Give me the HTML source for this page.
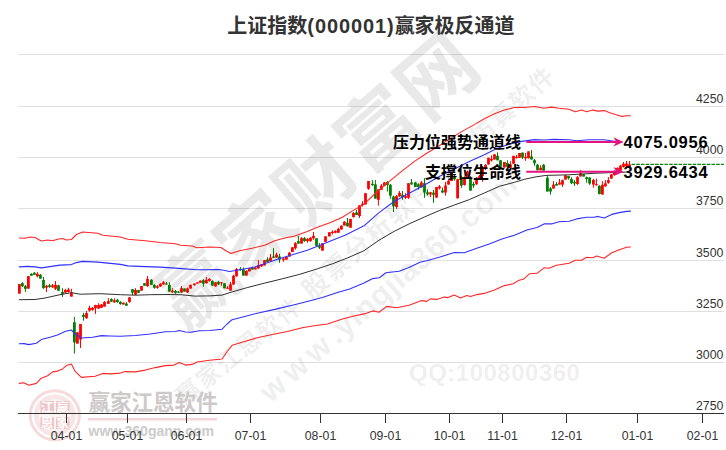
<!DOCTYPE html>
<html lang="zh-CN">
<head>
<meta charset="utf-8">
<title>上证指数(000001)赢家极反通道</title>
<style>
html,body{margin:0;padding:0;background:#fff;}
body{width:726px;height:450px;overflow:hidden;}
svg{display:block;}
.cn{font-family:"Liberation Sans","Noto Sans CJK SC",sans-serif;}
.ax{font-family:"Liberation Sans",sans-serif;font-size:12.3px;fill:#333;}
.wm{font-family:"Liberation Sans","Noto Sans CJK SC",sans-serif;fill:#000000;fill-opacity:0.088;}
</style>
</head>
<body>
<svg width="726" height="450" viewBox="0 0 726 450">
<rect x="0" y="0" width="726" height="450" fill="#ffffff"/>

<g stroke="#e0e0e0" stroke-width="1" shape-rendering="crispEdges">
<line x1="18" y1="54.5" x2="724" y2="54.5"/>
<line x1="18" y1="106.5" x2="724" y2="106.5"/>
<line x1="18" y1="157.5" x2="724" y2="157.5"/>
<line x1="18" y1="208.5" x2="724" y2="208.5"/>
<line x1="18" y1="260.5" x2="724" y2="260.5"/>
<line x1="18" y1="311.5" x2="724" y2="311.5"/>
<line x1="18" y1="362.5" x2="724" y2="362.5"/>
</g>
<g class="wm">
<text x="317.8" y="181.3" font-size="78" font-weight="700" letter-spacing="2" text-anchor="middle" dominant-baseline="central" transform="rotate(-41 317.8 181.3)">赢家财富网</text>
<text x="369" y="238.4" font-size="26" font-weight="bold" letter-spacing="2" text-anchor="middle" dominant-baseline="central" transform="rotate(-41.5 369 238.4)">股票分析软件</text>
<text x="512.6" y="105.8" font-size="24.5" font-weight="bold" letter-spacing="1.5" text-anchor="middle" dominant-baseline="central" transform="rotate(-41.2 512.6 105.8)">仿真软件</text>
<text x="263.6" y="395.5" font-size="31" font-weight="bold" dominant-baseline="central" transform="rotate(-41.2 263.6 395.5)"><tspan letter-spacing="5.5">www</tspan><tspan letter-spacing="0.55">.yingjia360</tspan><tspan letter-spacing="1.3">.com</tspan></text>
<text x="239.3" y="351.1" font-size="24" font-weight="bold" letter-spacing="1.7" text-anchor="middle" dominant-baseline="central" transform="rotate(-39 239.3 351.1)">赢家江恩软件</text>
<text x="409" y="380.9" font-size="24" font-weight="bold" letter-spacing="0.5" fill-opacity="0.075">QQ:100800360</text>
</g>
<g id="logo">
<circle cx="54.8" cy="415.3" r="21" fill="#fcf3f3"/>
<circle cx="54.8" cy="415.3" r="24.6" fill="none" stroke="#f5dbdb" stroke-width="3"/>
<circle cx="54.8" cy="415.3" r="18.6" fill="none" stroke="#f8e5e5" stroke-width="4.6"/>
<g fill="#eec5c6"><rect x="40.4" y="401" width="13.5" height="12.4"/><rect x="56" y="401" width="13.5" height="12.4"/><rect x="40.4" y="417.2" width="13.5" height="11.8"/><rect x="56" y="417.2" width="13.5" height="11.8"/></g>
<g class="cn" font-size="12.5" font-weight="bold" fill="#ffffff" text-anchor="middle">
<text x="47.1" y="411.8">江</text><text x="62.7" y="411.8">赢</text>
<text x="47.1" y="427.6">恩</text><text x="62.7" y="427.6">家</text>
</g>
<text class="cn" x="88.6" y="410.3" font-size="21.6" font-weight="700" fill="#cec8c8" letter-spacing="-0.1">赢家江恩软件</text>
<line x1="88" y1="419.3" x2="217" y2="419.3" stroke="#f2d6d7" stroke-width="2.4"/>
<text class="cn" x="88.5" y="436.4" font-size="14" font-weight="bold" fill="#cbcbcb">www.360gann.com</text>
</g>
<path d="M19.4 284.1V293.6M28.4 276.1V288.6M37.4 271.9V277.3M46.5 284.8V292.0M52.5 284.0V287.8M55.5 281.0V290.0M65.4 288.8V293.2M68.4 287.8V292.4M71.4 288.8V296.6M77.4 332.3V343.6M80.5 324.0V347.9M86.5 311.0V318.8M89.5 305.7V311.6M92.5 307.0V310.6M95.5 304.8V313.9M98.6 303.2V308.8M101.5 304.0V308.0M104.5 301.1V306.6M108.4 298.2V303.8M114.4 298.2V302.8M123.4 302.3V304.5M129.5 297.3V302.8M135.5 288.2V295.0M141.5 286.0V290.7M147.5 276.0V287.0M157.4 285.0V288.8M160.4 283.2V286.9M163.4 281.0V284.8M172.4 288.2V292.8M181.5 286.0V292.6M187.5 287.5V292.8M190.5 284.8V288.6M194.4 283.3V285.8M197.4 282.3V283.6M200.4 280.6V282.7M206.4 277.0V283.6M209.4 278.1V281.8M215.5 282.3V286.5M221.5 282.0V285.8M227.5 286.1V288.6M230.5 282.0V290.6M233.5 274.8V284.6M236.5 268.0V276.4M246.4 270.2V275.6M249.4 268.3V271.4M255.4 266.8V269.5M258.4 260.1V268.5M261.5 263.9V266.8M264.5 260.1V265.5M270.5 253.9V261.0M276.5 252.7V257.8M283.4 257.8V261.9M286.4 256.9V259.6M289.4 251.9V256.9M292.4 247.3V251.9M295.4 242.1V249.6M301.5 237.1V243.6M307.5 238.1V242.7M310.5 237.1V241.8M313.5 232.0V239.8M322.5 243.3V250.6M325.5 236.4V241.8M329.4 232.3V236.4M332.4 230.2V234.6M335.4 230.2V233.3M338.4 227.7V232.7M341.4 225.2V229.5M344.4 221.0V225.5M350.5 218.9V227.7M353.5 212.0V217.6M359.5 205.3V217.9M362.5 201.1V206.6M365.5 193.2V204.5M368.5 181.0V189.8M378.4 189.4V205.7M381.4 184.0V189.8M384.4 181.9V186.3M396.5 195.0V208.9M399.5 191.0V197.0M405.5 193.2V199.0M408.5 183.2V198.8M421.4 181.0V187.6M430.5 191.9V197.0M436.5 187.0V197.6M439.5 185.0V189.5M445.5 182.0V195.6M448.5 179.3V184.6M451.5 172.0V181.2M457.6 178.7V198.8M464.5 176.5V185.6M467.5 170.5V178.5M476.5 177.0V184.8M479.5 175.0V179.6M482.5 166.0V181.8M485.5 164.0V170.0M488.5 157.8V164.5M491.5 155.5V161.5M494.5 154.3V159.5M504.4 162.0V167.8M510.4 161.2V168.5M513.5 155.8V163.7M516.5 154.9V158.7M519.5 153.0V157.8M525.5 153.0V160.8M528.5 151.4V158.3M540.6 165.2V170.4M553.5 181.1V188.6M559.5 179.0V184.6M562.5 179.6V186.9M565.5 175.2V179.6M577.5 176.1V184.9M580.5 170.2V176.5M593.4 178.9V187.7M596.4 178.5V185.6M602.4 181.2V194.5M605.4 180.1V186.4M608.4 177.1V183.8M611.4 173.8V178.6M614.4 170.2V175.0M617.4 167.2V172.0M620.5 164.8V170.7M623.5 161.9V167.5M626.5 161.0V166.9M629.5 161.0V166.9" stroke="#ff0000" stroke-width="1" fill="none"/>
<path d="M22.4 282.0V287.0M25.4 284.8V292.0M31.4 273.2V275.7M34.4 272.0V274.8M40.4 274.0V278.8M43.5 277.0V288.8M49.5 283.8V287.8M58.5 284.8V291.0M62.5 288.2V297.0M74.4 316.9V353.6M83.5 312.8V320.7M111.4 298.2V302.0M117.4 298.8V302.8M120.4 301.1V304.8M126.4 302.0V305.7M132.5 289.2V295.0M138.5 290.0V292.8M144.5 283.2V285.7M151.4 279.0V284.8M154.4 284.0V288.8M166.4 281.9V284.8M169.4 282.3V291.6M175.5 290.0V293.8M178.5 291.0V292.8M184.5 288.5V291.6M203.4 279.0V286.8M212.4 280.2V285.8M218.5 280.8V285.2M224.5 283.3V288.3M240.4 267.0V270.8M243.4 267.3V275.6M252.4 266.8V269.8M267.5 257.3V261.8M273.5 248.1V257.8M279.5 254.0V262.8M298.4 235.8V243.6M304.5 237.1V241.8M316.5 238.3V245.8M319.5 243.1V249.0M347.5 218.0V226.4M356.5 210.1V215.1M372.4 180.0V186.0M375.4 180.0V198.6M387.4 181.0V191.6M390.4 184.0V198.8M393.5 195.7V212.0M402.5 191.0V199.8M411.5 179.0V184.8M415.4 181.9V186.9M418.4 183.2V189.8M424.5 178.1V197.8M427.5 189.4V195.7M433.5 190.0V202.8M442.5 187.5V193.1M454.5 175.0V180.8M461.4 175.5V187.9M470.5 176.0V190.6M473.5 181.8V187.9M497.5 152.4V160.3M500.5 160.0V167.0M507.4 160.3V166.8M522.5 152.6V158.9M531.5 150.1V159.5M534.5 159.0V165.8M537.5 163.9V170.4M543.6 163.9V170.8M547.4 175.8V191.5M550.5 187.1V194.6M556.5 182.1V185.6M568.5 175.8V179.6M571.5 177.3V184.0M574.5 180.2V185.9M583.6 174.3V176.5M586.6 176.5V182.7M589.6 177.3V184.9M599.4 185.2V194.5" stroke="#008000" stroke-width="1" fill="none"/>
<g fill="#ff0000"><rect x="18.00" y="284.1" width="2.8" height="9.5"/><rect x="27.00" y="276.1" width="2.8" height="12.5"/><rect x="36.00" y="273.8" width="2.8" height="2.5"/><rect x="45.10" y="285.7" width="2.8" height="1.9"/><rect x="51.10" y="285.3" width="2.8" height="2.0"/><rect x="54.10" y="284.8" width="2.8" height="4.0"/><rect x="64.00" y="290.0" width="2.8" height="2.6"/><rect x="67.00" y="289.5" width="2.8" height="2.5"/><rect x="70.00" y="292.6" width="2.8" height="4.0"/><rect x="76.00" y="332.3" width="2.8" height="11.3"/><rect x="79.10" y="324.0" width="2.8" height="15.5"/><rect x="85.10" y="313.1" width="2.8" height="5.1"/><rect x="88.10" y="307.8" width="2.8" height="2.8"/><rect x="91.10" y="307.8" width="2.8" height="2.2"/><rect x="94.10" y="305.0" width="2.8" height="3.2"/><rect x="97.20" y="305.0" width="2.8" height="3.6"/><rect x="100.10" y="304.6" width="2.8" height="3.1"/><rect x="103.10" y="302.0" width="2.8" height="4.6"/><rect x="107.00" y="301.1" width="2.8" height="2.7"/><rect x="113.00" y="300.3" width="2.8" height="2.0"/><rect x="122.00" y="302.8" width="2.8" height="1.7"/><rect x="128.10" y="297.3" width="2.8" height="4.7"/><rect x="134.10" y="290.0" width="2.8" height="4.8"/><rect x="140.10" y="286.0" width="2.8" height="4.7"/><rect x="146.10" y="279.0" width="2.8" height="7.0"/><rect x="156.00" y="286.3" width="2.8" height="1.5"/><rect x="159.00" y="283.8" width="2.8" height="2.7"/><rect x="162.00" y="282.3" width="2.8" height="2.1"/><rect x="171.00" y="290.7" width="2.8" height="1.6"/><rect x="180.10" y="288.2" width="2.8" height="4.4"/><rect x="186.10" y="288.4" width="2.8" height="4.1"/><rect x="189.10" y="284.8" width="2.8" height="3.8"/><rect x="193.00" y="283.6" width="2.8" height="1.6"/><rect x="196.00" y="282.3" width="2.8" height="1.3"/><rect x="199.00" y="280.6" width="2.8" height="2.1"/><rect x="205.00" y="279.8" width="2.8" height="3.5"/><rect x="208.00" y="279.0" width="2.8" height="1.8"/><rect x="214.10" y="282.3" width="2.8" height="4.2"/><rect x="220.10" y="282.3" width="2.8" height="1.0"/><rect x="226.10" y="287.7" width="2.8" height="1.0"/><rect x="229.10" y="284.3" width="2.8" height="6.3"/><rect x="232.10" y="275.8" width="2.8" height="8.8"/><rect x="235.10" y="268.9" width="2.8" height="7.5"/><rect x="245.00" y="270.8" width="2.8" height="4.8"/><rect x="248.00" y="268.3" width="2.8" height="3.1"/><rect x="254.00" y="267.7" width="2.8" height="1.6"/><rect x="257.00" y="265.2" width="2.8" height="3.3"/><rect x="260.10" y="264.5" width="2.8" height="1.9"/><rect x="263.10" y="260.1" width="2.8" height="5.4"/><rect x="269.10" y="257.6" width="2.8" height="3.4"/><rect x="275.10" y="254.4" width="2.8" height="3.2"/><rect x="282.00" y="258.6" width="2.8" height="1.3"/><rect x="285.00" y="256.9" width="2.8" height="2.7"/><rect x="288.00" y="252.7" width="2.8" height="3.8"/><rect x="291.00" y="247.3" width="2.8" height="4.6"/><rect x="294.00" y="243.1" width="2.8" height="5.2"/><rect x="300.10" y="238.1" width="2.8" height="5.5"/><rect x="306.10" y="238.9" width="2.8" height="2.2"/><rect x="309.10" y="237.7" width="2.8" height="3.4"/><rect x="312.10" y="235.8" width="2.8" height="2.5"/><rect x="321.10" y="243.3" width="2.8" height="7.3"/><rect x="324.10" y="236.4" width="2.8" height="5.4"/><rect x="328.00" y="232.3" width="2.8" height="4.1"/><rect x="331.00" y="231.8" width="2.8" height="1.2"/><rect x="334.00" y="231.0" width="2.8" height="1.7"/><rect x="337.00" y="228.9" width="2.8" height="3.8"/><rect x="340.00" y="225.8" width="2.8" height="3.7"/><rect x="343.00" y="221.8" width="2.8" height="3.7"/><rect x="349.10" y="218.9" width="2.8" height="8.8"/><rect x="352.10" y="213.0" width="2.8" height="4.0"/><rect x="358.10" y="205.3" width="2.8" height="10.8"/><rect x="361.10" y="203.6" width="2.8" height="1.5"/><rect x="364.10" y="193.2" width="2.8" height="11.3"/><rect x="367.10" y="181.0" width="2.8" height="7.8"/><rect x="377.00" y="189.4" width="2.8" height="10.4"/><rect x="380.00" y="185.7" width="2.8" height="4.1"/><rect x="383.00" y="182.5" width="2.8" height="3.2"/><rect x="395.10" y="196.1" width="2.8" height="10.9"/><rect x="398.10" y="192.8" width="2.8" height="3.5"/><rect x="404.10" y="196.1" width="2.8" height="1.7"/><rect x="407.10" y="183.2" width="2.8" height="14.6"/><rect x="420.00" y="182.5" width="2.8" height="4.8"/><rect x="429.10" y="192.3" width="2.8" height="2.1"/><rect x="435.10" y="187.0" width="2.8" height="10.6"/><rect x="438.10" y="186.4" width="2.8" height="2.0"/><rect x="444.10" y="185.4" width="2.8" height="7.1"/><rect x="447.10" y="180.8" width="2.8" height="3.8"/><rect x="450.10" y="173.0" width="2.8" height="8.0"/><rect x="456.20" y="179.3" width="2.8" height="18.8"/><rect x="463.10" y="177.5" width="2.8" height="7.5"/><rect x="466.10" y="171.5" width="2.8" height="6.5"/><rect x="475.10" y="177.8" width="2.8" height="6.5"/><rect x="478.10" y="176.2" width="2.8" height="2.8"/><rect x="481.10" y="167.0" width="2.8" height="9.0"/><rect x="484.10" y="165.0" width="2.8" height="4.0"/><rect x="487.10" y="157.8" width="2.8" height="6.7"/><rect x="490.10" y="159.0" width="2.8" height="1.5"/><rect x="493.10" y="154.3" width="2.8" height="5.2"/><rect x="503.00" y="162.0" width="2.8" height="5.4"/><rect x="509.00" y="164.3" width="2.8" height="3.7"/><rect x="512.10" y="155.8" width="2.8" height="7.9"/><rect x="515.10" y="156.8" width="2.8" height="1.2"/><rect x="518.10" y="153.0" width="2.8" height="4.8"/><rect x="524.10" y="156.8" width="2.8" height="1.5"/><rect x="527.10" y="151.4" width="2.8" height="6.9"/><rect x="539.20" y="167.7" width="2.8" height="2.5"/><rect x="552.10" y="184.6" width="2.8" height="4.0"/><rect x="558.10" y="182.7" width="2.8" height="1.9"/><rect x="561.10" y="180.2" width="2.8" height="4.4"/><rect x="564.10" y="175.2" width="2.8" height="4.4"/><rect x="576.10" y="177.1" width="2.8" height="6.9"/><rect x="579.10" y="173.3" width="2.8" height="3.2"/><rect x="592.00" y="180.0" width="2.8" height="4.5"/><rect x="595.00" y="184.2" width="2.8" height="1.1"/><rect x="601.00" y="184.8" width="2.8" height="9.7"/><rect x="604.00" y="183.3" width="2.8" height="3.1"/><rect x="607.00" y="180.1" width="2.8" height="2.7"/><rect x="610.00" y="174.4" width="2.8" height="4.2"/><rect x="613.00" y="171.0" width="2.8" height="4.0"/><rect x="616.00" y="168.0" width="2.8" height="4.0"/><rect x="619.10" y="165.7" width="2.8" height="5.0"/><rect x="622.10" y="163.8" width="2.8" height="3.1"/><rect x="625.10" y="163.5" width="2.8" height="2.8"/><rect x="628.10" y="164.4" width="2.8" height="2.5"/></g>
<g fill="#008000"><rect x="21.00" y="283.2" width="2.8" height="3.1"/><rect x="24.00" y="286.1" width="2.8" height="2.7"/><rect x="30.00" y="273.8" width="2.8" height="1.9"/><rect x="33.00" y="272.8" width="2.8" height="2.0"/><rect x="39.00" y="274.8" width="2.8" height="3.8"/><rect x="42.10" y="280.0" width="2.8" height="8.2"/><rect x="48.10" y="285.3" width="2.8" height="1.7"/><rect x="57.10" y="285.3" width="2.8" height="5.4"/><rect x="61.10" y="292.0" width="2.8" height="1.9"/><rect x="73.00" y="322.3" width="2.8" height="20.1"/><rect x="82.10" y="314.8" width="2.8" height="2.1"/><rect x="110.00" y="299.1" width="2.8" height="2.5"/><rect x="116.00" y="299.8" width="2.8" height="2.2"/><rect x="119.00" y="302.0" width="2.8" height="2.1"/><rect x="125.00" y="303.6" width="2.8" height="2.1"/><rect x="131.10" y="289.2" width="2.8" height="3.4"/><rect x="137.10" y="290.0" width="2.8" height="2.8"/><rect x="143.10" y="283.2" width="2.8" height="2.5"/><rect x="150.00" y="279.8" width="2.8" height="5.0"/><rect x="153.00" y="285.0" width="2.8" height="2.8"/><rect x="165.00" y="283.5" width="2.8" height="1.0"/><rect x="168.00" y="285.0" width="2.8" height="6.6"/><rect x="174.10" y="291.0" width="2.8" height="1.8"/><rect x="177.10" y="291.6" width="2.8" height="1.0"/><rect x="183.10" y="288.5" width="2.8" height="3.1"/><rect x="202.00" y="280.2" width="2.8" height="3.4"/><rect x="211.00" y="281.0" width="2.8" height="4.6"/><rect x="217.10" y="281.8" width="2.8" height="2.5"/><rect x="223.10" y="283.3" width="2.8" height="5.0"/><rect x="239.00" y="268.9" width="2.8" height="1.3"/><rect x="242.00" y="269.5" width="2.8" height="6.1"/><rect x="251.00" y="267.7" width="2.8" height="1.8"/><rect x="266.10" y="259.5" width="2.8" height="2.3"/><rect x="272.10" y="256.5" width="2.8" height="1.3"/><rect x="278.10" y="256.5" width="2.8" height="3.1"/><rect x="297.00" y="241.1" width="2.8" height="2.5"/><rect x="303.10" y="238.1" width="2.8" height="3.0"/><rect x="315.10" y="238.3" width="2.8" height="7.5"/><rect x="318.10" y="245.8" width="2.8" height="1.9"/><rect x="346.10" y="222.7" width="2.8" height="3.7"/><rect x="355.10" y="212.4" width="2.8" height="2.6"/><rect x="371.00" y="183.8" width="2.8" height="1.2"/><rect x="374.00" y="184.4" width="2.8" height="14.2"/><rect x="386.00" y="181.9" width="2.8" height="3.1"/><rect x="389.00" y="184.8" width="2.8" height="10.9"/><rect x="392.10" y="196.6" width="2.8" height="9.7"/><rect x="401.10" y="194.8" width="2.8" height="2.5"/><rect x="410.10" y="182.5" width="2.8" height="1.9"/><rect x="414.00" y="182.5" width="2.8" height="4.4"/><rect x="417.00" y="184.4" width="2.8" height="2.5"/><rect x="423.10" y="183.2" width="2.8" height="9.4"/><rect x="426.10" y="192.3" width="2.8" height="2.1"/><rect x="432.10" y="192.6" width="2.8" height="2.2"/><rect x="441.10" y="190.4" width="2.8" height="2.1"/><rect x="453.10" y="176.2" width="2.8" height="3.1"/><rect x="460.00" y="176.8" width="2.8" height="8.8"/><rect x="469.10" y="178.0" width="2.8" height="12.6"/><rect x="472.10" y="184.0" width="2.8" height="1.6"/><rect x="496.10" y="155.8" width="2.8" height="4.5"/><rect x="499.10" y="160.3" width="2.8" height="6.5"/><rect x="506.00" y="163.0" width="2.8" height="3.8"/><rect x="521.10" y="152.6" width="2.8" height="5.0"/><rect x="530.10" y="156.4" width="2.8" height="3.1"/><rect x="533.10" y="160.2" width="2.8" height="3.1"/><rect x="536.10" y="164.8" width="2.8" height="5.4"/><rect x="542.20" y="164.8" width="2.8" height="5.8"/><rect x="546.00" y="177.7" width="2.8" height="13.8"/><rect x="549.10" y="188.4" width="2.8" height="3.1"/><rect x="555.10" y="184.0" width="2.8" height="1.6"/><rect x="567.10" y="176.1" width="2.8" height="2.2"/><rect x="570.10" y="179.0" width="2.8" height="4.1"/><rect x="573.10" y="181.9" width="2.8" height="1.5"/><rect x="582.20" y="174.3" width="2.8" height="2.2"/><rect x="585.20" y="177.3" width="2.8" height="1.7"/><rect x="588.20" y="177.5" width="2.8" height="6.1"/><rect x="598.00" y="185.8" width="2.8" height="8.2"/></g>
<g fill="none" stroke-width="1.08" stroke-linejoin="round" stroke-linecap="round">
<polyline stroke="#ff2626" points="19.3,238.0 25.0,238.3 30.0,237.0 35.0,237.5 41.3,241.0 47.6,240.0 52.6,240.8 57.6,239.3 62.6,238.5 66.4,240.0 71.4,239.5 76.4,234.5 82.7,232.0 97.7,233.3 102.7,235.3 120.3,237.0 127.8,239.3 145.4,240.8 160.4,242.5 175.4,243.8 180.5,245.3 192.0,246.0 197.0,247.7 209.6,247.0 220.9,247.5 225.9,250.8 230.9,253.5 239.7,250.8 252.2,248.2 264.7,245.2 274.8,240.7 284.8,238.0 294.8,236.0 307.3,231.4 317.4,227.2 329.9,222.7 342.4,217.2 352.5,210.9 364.0,204.2 379.0,190.0 389.0,181.6 401.6,171.4 414.1,161.6 426.7,153.2 439.2,145.7 451.7,137.6 464.3,130.1 474.3,124.6 484.3,118.8 494.4,113.8 504.4,110.1 514.4,107.5 524.4,107.5 534.5,106.5 544.0,108.3 551.5,107.1 559.0,108.3 569.1,109.3 575.3,111.8 581.6,110.1 586.6,111.8 592.9,110.1 597.9,111.1 604.2,110.6 609.2,112.6 615.4,114.6 621.7,116.4 626.7,115.8 630.5,115.8"/>
<polyline stroke="#ff2626" points="19.3,383.4 23.8,382.7 28.8,385.2 36.3,383.4 41.3,378.2 47.6,375.7 52.6,371.9 57.6,371.1 62.6,368.9 66.4,365.6 71.4,364.1 75.2,371.4 81.4,377.4 95.2,376.2 102.7,373.4 110.3,373.9 120.3,373.1 125.3,371.6 135.3,371.9 145.4,370.1 155.4,367.6 165.4,365.6 174.2,365.1 179.2,362.6 185.5,365.1 192.0,364.4 197.0,362.0 209.6,360.3 222.1,359.0 227.1,351.5 232.1,345.3 244.7,341.5 257.2,337.7 272.3,334.5 287.3,331.5 302.3,327.7 312.4,326.0 327.4,324.0 342.4,318.9 355.0,315.7 364.0,313.9 372.8,310.9 379.0,312.2 386.6,306.4 396.6,307.7 409.1,305.2 421.7,300.6 426.7,301.4 430.4,298.9 436.7,299.4 444.2,297.1 448.0,297.6 454.2,295.1 460.5,298.1 466.8,295.6 470.5,296.6 476.8,294.6 484.3,293.4 494.4,290.1 504.4,285.6 513.2,283.8 518.2,280.6 523.2,279.3 529.5,273.8 537.0,273.3 544.0,267.8 549.0,268.3 556.5,265.3 569.1,263.3 575.3,260.3 581.6,260.3 586.6,257.3 592.9,257.8 596.6,256.0 604.2,258.3 611.7,252.8 619.2,249.7 626.7,247.2 630.5,247.0"/>
<polyline stroke="#3030ff" points="19.3,266.9 27.5,266.4 35.0,266.9 41.3,267.9 50.0,266.6 60.0,265.1 71.4,264.6 76.4,262.6 82.7,261.4 97.7,262.1 110.3,263.4 120.3,264.4 127.8,265.9 145.4,266.6 160.4,267.1 175.4,268.1 182.0,268.6 197.0,269.8 219.6,269.5 229.6,271.5 237.2,270.3 254.7,267.0 267.2,262.8 279.8,258.5 292.3,254.8 307.3,250.2 319.9,245.2 332.4,240.2 345.0,235.2 357.5,228.9 364.0,225.8 379.0,212.6 394.1,201.5 409.1,193.3 424.2,185.2 439.2,176.5 454.2,169.0 469.3,161.4 484.3,154.7 496.9,148.4 509.4,143.9 521.9,141.4 534.5,139.6 544.0,140.0 554.0,139.4 569.1,139.7 576.6,140.7 589.1,139.7 604.2,139.7 614.2,141.2 622.0,142.2"/>
<polyline stroke="#3030ff" points="19.3,343.8 24.0,343.6 28.8,344.6 36.3,343.3 41.3,339.6 50.0,337.3 57.5,335.0 65.0,331.6 71.3,330.0 74.4,333.2 81.3,338.0 92.6,337.3 101.4,335.6 110.0,336.0 120.3,336.3 135.3,335.5 150.4,334.0 165.4,331.8 175.4,331.5 179.2,330.5 185.5,332.0 190.8,332.2 199.5,330.7 209.6,330.5 222.1,329.2 227.1,324.0 232.1,319.7 244.7,316.4 257.2,313.2 274.8,309.4 292.3,305.2 307.3,301.4 322.4,297.6 337.4,292.6 349.6,288.9 364.0,283.1 372.7,278.6 379.3,277.8 385.9,272.8 392.5,272.0 399.1,271.2 409.0,267.5 420.0,262.3 426.7,260.7 439.2,257.2 454.2,252.6 464.3,252.7 476.8,248.2 489.3,243.9 501.9,238.9 514.4,235.2 526.9,230.1 537.0,227.6 544.0,223.9 551.5,223.9 559.0,221.7 569.1,221.2 576.6,218.9 586.6,217.2 594.1,217.2 598.0,216.4 604.2,217.9 611.7,214.4 619.2,212.6 626.7,211.4 630.5,211.1"/>
<polyline stroke="#303030" stroke-width="1" points="19.3,299.7 35.0,299.5 45.0,298.0 60.0,294.7 71.4,292.7 80.2,294.2 100.2,293.7 120.3,294.7 135.3,295.2 150.4,294.7 170.4,294.5 182.0,294.8 194.5,296.1 209.6,295.9 222.1,295.1 232.1,291.9 247.2,287.6 264.7,283.1 282.3,278.8 299.8,274.3 317.4,268.8 332.4,263.8 347.4,258.0 364.0,250.7 379.0,240.2 394.1,231.4 409.1,223.9 424.2,217.1 439.2,210.6 454.2,205.1 469.3,199.6 484.3,193.0 499.4,186.3 514.4,182.3 524.4,179.3 535.0,177.0 546.0,175.4 569.0,174.8 594.0,173.3 619.2,172.3 628.0,172.0"/>
</g>
<line x1="631.5" y1="164.4" x2="724" y2="164.4" stroke="#0f850f" stroke-width="1.1" stroke-dasharray="3.7 1"/>
<g stroke="#333" stroke-width="1" shape-rendering="crispEdges"><line x1="18" y1="413.5" x2="724" y2="413.5"/>
<line x1="66.5" y1="413.5" x2="66.5" y2="423.0"/>
<line x1="127.5" y1="413.5" x2="127.5" y2="423.0"/>
<line x1="186.5" y1="413.5" x2="186.5" y2="423.0"/>
<line x1="250.5" y1="413.5" x2="250.5" y2="423.0"/>
<line x1="320.5" y1="413.5" x2="320.5" y2="423.0"/>
<line x1="385.5" y1="413.5" x2="385.5" y2="423.0"/>
<line x1="449.5" y1="413.5" x2="449.5" y2="423.0"/>
<line x1="502.5" y1="413.5" x2="502.5" y2="423.0"/>
<line x1="566.5" y1="413.5" x2="566.5" y2="423.0"/>
<line x1="637.5" y1="413.5" x2="637.5" y2="423.0"/>
<line x1="702.5" y1="413.5" x2="702.5" y2="423.0"/>
</g>
<g class="ax" text-anchor="middle">
<text transform="translate(66.5 440) scale(1 1.08)">04-01</text>
<text transform="translate(127.5 440) scale(1 1.08)">05-01</text>
<text transform="translate(186.5 440) scale(1 1.08)">06-01</text>
<text transform="translate(250.5 440) scale(1 1.08)">07-01</text>
<text transform="translate(320.5 440) scale(1 1.08)">08-01</text>
<text transform="translate(385.5 440) scale(1 1.08)">09-01</text>
<text transform="translate(449.5 440) scale(1 1.08)">10-01</text>
<text transform="translate(502.5 440) scale(1 1.08)">11-01</text>
<text transform="translate(566.5 440) scale(1 1.08)">12-01</text>
<text transform="translate(637.5 440) scale(1 1.08)">01-01</text>
<text transform="translate(702.5 440) scale(1 1.08)">02-01</text>
</g>
<g class="ax" text-anchor="end">
<text transform="translate(723.3 103.4) scale(1 1.06)">4250</text>
<text transform="translate(723.3 154.4) scale(1 1.06)">4000</text>
<text transform="translate(723.3 205.4) scale(1 1.06)">3750</text>
<text transform="translate(723.3 257.4) scale(1 1.06)">3500</text>
<text transform="translate(723.3 308.4) scale(1 1.06)">3250</text>
<text transform="translate(723.3 359.4) scale(1 1.06)">3000</text>
<text transform="translate(723.3 410.4) scale(1 1.06)">2750</text>
</g>
<line x1="526.3" y1="141.9" x2="617.5" y2="141.9" stroke="#e4137f" stroke-width="2"/><polygon points="623.5,141.9 613.5,137.3 616.3,141.9 613.5,146.5" fill="#e4137f"/>
<line x1="526.3" y1="171.7" x2="617.5" y2="171.7" stroke="#e4137f" stroke-width="2"/><polygon points="623.5,171.7 613.5,167.1 616.3,171.7 613.5,176.29999999999998" fill="#e4137f"/>
<g class="cn" font-weight="bold" fill="#000" font-size="16">
<text x="521" y="148" text-anchor="end">压力位强势通道线</text>
<text x="521" y="177.6" text-anchor="end">支撑位生命线</text>
<text x="623.6" y="148" font-size="16.5" letter-spacing="0.75">4075.0956</text>
<text x="623.6" y="178.1" font-size="16.5" letter-spacing="0.75">3929.6434</text>
</g>
<text class="cn" x="371" y="33" font-size="20" font-weight="bold" fill="#333" text-anchor="middle">上证指数<tspan letter-spacing="0.9">(000001)</tspan>赢家极反通道</text>
</svg>
</body>
</html>
